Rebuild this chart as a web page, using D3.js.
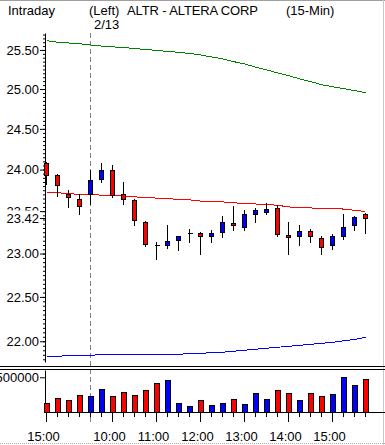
<!DOCTYPE html>
<html>
<head>
<meta charset="utf-8">
<script src="https://cdn.jsdelivr.net/npm/d3@7"></script>
<style>
    body { margin: 0; background: #fff; }
    svg { display: block; font-family: "Liberation Sans", Arial, sans-serif; }
</style>
</head>
<body>
<script>
// 15-min bars, last 4 of 2/12 then 2/13
var times = ["15:00","15:15","15:30","15:45","9:30","9:45","10:00","10:15","10:30","10:45",
             "11:00","11:15","11:30","11:45","12:00","12:15","12:30","12:45","13:00","13:15",
             "13:30","13:45","14:00","14:15","14:30","14:45","15:00","15:15","15:30","15:45"];
var sessionStart = 4;
var sessionDate = "2/13";

var open  = [24.08,23.93,23.71,23.65,23.71,23.89,24.00,23.71,23.63,23.37,23.10,23.10,23.16,23.24,23.245,
             23.21,23.25,23.36,23.31,23.47,23.49,23.54,23.22,23.20,23.27,23.18,23.10,23.21,23.33,23.47];
var high  = [24.09,23.95,23.75,23.70,24.00,24.08,24.06,23.85,23.64,23.38,23.13,23.33,23.21,23.29,23.25,
             23.28,23.44,23.56,23.51,23.54,23.60,23.57,23.37,23.33,23.29,23.20,23.23,23.46,23.44,23.48];
var low   = [23.82,23.68,23.55,23.47,23.58,23.85,23.67,23.58,23.34,23.09,22.94,23.06,23.04,23.14,22.99,
             23.14,23.19,23.28,23.28,23.37,23.47,23.21,23.00,23.10,23.14,22.99,23.05,23.17,23.28,23.24];
var close = [23.94,23.81,23.67,23.56,23.87,24.00,23.69,23.65,23.39,23.11,23.10,23.15,23.20,23.24,23.21,
             23.24,23.37,23.33,23.47,23.51,23.53,23.23,23.19,23.27,23.21,23.08,23.21,23.31,23.43,23.42];
var volume = [125000,197000,169000,241000,226000,327000,226000,284000,241000,313000,
              414000,457000,125000,82000,169000,97000,125000,183000,111000,270000,
              183000,313000,270000,169000,270000,226000,255000,500000,385000,471000];

var upperBand = [25.62,25.60,25.59,25.58,25.565,25.55,25.54,25.53,25.52,25.505,
                 25.495,25.48,25.47,25.455,25.435,25.41,25.385,25.35,25.32,25.28,
                 25.245,25.205,25.17,25.13,25.095,25.055,25.03,25.005,24.98,24.955];
var midLine   = [23.72,23.72,23.71,23.70,23.70,23.69,23.69,23.68,23.67,23.665,
                 23.655,23.65,23.64,23.635,23.62,23.615,23.61,23.60,23.59,23.585,
                 23.578,23.57,23.55,23.54,23.538,23.53,23.527,23.525,23.51,23.495];
var lowerBand = [21.834,21.834,21.84,21.845,21.845,21.85,21.85,21.856,21.856,21.856,
                 21.856,21.856,21.856,21.862,21.867,21.872,21.878,21.889,21.90,21.911,
                 21.922,21.933,21.944,21.955,21.966,21.977,21.988,22.005,22.02,22.044];

var priceTicks = [22.00, 22.50, 23.00, 23.50, 24.00, 24.50, 25.00, 25.50];
var volumeTicks = [500000];

function init(){
    var w = 385;
    var h = 445;
    var axisX = 45;
    var fontSize = 13;
    var red = "#ff0000", blue = "#0000ff";

    var svg = d3.select("body")
                .append("svg")
                .attr("width", w)
                .attr("height", h);

    var xScale = d3.scalePoint()
                    .domain(d3.range(times.length))
                    .range([46, 365]);
    function cx(i) { return xScale(i) + 0.5; }

    var yScale = d3.scaleLog()
                    .domain([21.77, 25.72])
                    .range([362, 33]);

    var vScale = d3.scaleLinear()
                    .domain([0, 605000])
                    .range([412, 370]);

    // frame bits
    svg.append("line").attr("x1", 0).attr("x2", w).attr("y1", 0.5).attr("y2", 0.5)
        .attr("stroke", "#a0a0a0");
    svg.append("line").attr("x1", w - 1.5).attr("x2", w - 1.5).attr("y1", 0).attr("y2", h)
        .attr("stroke", "#c8c8c8");
    svg.append("line").attr("x1", 0).attr("x2", w).attr("y1", h - 1.5).attr("y2", h - 1.5)
        .attr("stroke", "#b0b0b0").attr("stroke-dasharray", "1,1");

    // header
    var header = svg.append("g").attr("font-size", fontSize).attr("fill", "black");
    header.append("text").attr("x", 8).attr("y", 15).text("Intraday");
    header.append("text").attr("x", 89).attr("y", 15).text("(Left)");
    header.append("text").attr("x", 127).attr("y", 15).attr("textLength", 131).text("ALTR - ALTERA CORP");
    header.append("text").attr("x", 286).attr("y", 15).text("(15-Min)");
    header.append("text").attr("x", 94).attr("y", 29).text(sessionDate);

    // session separator
    svg.append("line")
        .attr("x1", cx(sessionStart)).attr("x2", cx(sessionStart))
        .attr("y1", 33).attr("y2", 422)
        .attr("stroke", "#808080")
        .attr("stroke-dasharray", "5,3");

    // panel separator (double line)
    [366.5, 369.5].forEach(function(y) {
        svg.append("line").attr("x1", 0).attr("x2", w).attr("y1", y).attr("y2", y)
            .attr("stroke", "black");
    });

    // price axis: minor ticks every 0.05
    var minor = d3.range(0, 79).map(function(i) { return Math.round((21.80 + i * 0.05) * 100) / 100; });
    var minorAxis = svg.append("g")
        .attr("transform", "translate(" + axisX + ",0)")
        .call(d3.axisLeft(yScale).tickValues(minor).tickSize(2).tickSizeOuter(0).tickFormat(""));
    minorAxis.select(".domain").remove();

    var priceAxis = svg.append("g")
        .attr("transform", "translate(" + axisX + ",0)")
        .call(d3.axisLeft(yScale)
                .tickValues(priceTicks)
                .tickSize(5)
                .tickSizeOuter(0)
                .tickPadding(1)
                .tickFormat(d3.format(".2f")));
    priceAxis.attr("font-size", fontSize).attr("font-family", null);
    priceAxis.selectAll("line, path").attr("stroke", "black");
    priceAxis.selectAll("text").attr("fill", "black");

    // last price marker
    var last = close[close.length - 1];
    var lastY = Math.round(yScale(last)) + 0.5;
    svg.append("rect")
        .attr("x", 0).attr("y", lastY - 8)
        .attr("width", axisX - 5).attr("height", 15)
        .attr("fill", "white");
    svg.append("line")
        .attr("x1", axisX - 5).attr("x2", axisX).attr("y1", lastY).attr("y2", lastY)
        .attr("stroke", "black");
    svg.append("text")
        .attr("x", axisX - 6).attr("y", lastY)
        .attr("dy", "0.32em")
        .attr("text-anchor", "end")
        .attr("font-size", fontSize)
        .text(d3.format(".2f")(last));

    // bands
    var bands = [[upperBand, "#008000"], [midLine, red], [lowerBand, blue]];
    bands.forEach(function(b) {
        svg.append("path")
            .datum(b[0])
            .attr("fill", "none")
            .attr("stroke", b[1])
            .attr("stroke-width", 1)
            .attr("shape-rendering", "crispEdges")
            .attr("d", d3.line()
                .x(function(d, i) { return cx(i); })
                .y(function(d) { return yScale(d); }));
    });

    // candles
    var candles = svg.append("g").selectAll("g")
        .data(d3.range(times.length))
        .enter()
        .append("g")
        .attr("shape-rendering", "crispEdges");

    candles.append("line")
        .attr("x1", function(i) { return cx(i); })
        .attr("x2", function(i) { return cx(i); })
        .attr("y1", function(i) { return Math.round(yScale(high[i])); })
        .attr("y2", function(i) { return Math.round(yScale(low[i])) + 1; })
        .attr("stroke", "black");

    candles.filter(function(i) { return open[i] !== close[i]; })
        .append("rect")
        .attr("x", function(i) { return cx(i) - 2; })
        .attr("y", function(i) { return Math.round(yScale(Math.max(open[i], close[i]))) + 0.5; })
        .attr("width", 4)
        .attr("height", function(i) {
            return Math.max(1, Math.round(yScale(Math.min(open[i], close[i]))) - Math.round(yScale(Math.max(open[i], close[i]))));
        })
        .attr("fill", function(i) { return close[i] > open[i] ? blue : red; })
        .attr("stroke", "black");

    candles.filter(function(i) { return open[i] === close[i]; })
        .append("line")
        .attr("x1", function(i) { return cx(i) - 2; })
        .attr("x2", function(i) { return cx(i) + 3; })
        .attr("y1", function(i) { return Math.round(yScale(close[i])) + 0.5; })
        .attr("y2", function(i) { return Math.round(yScale(close[i])) + 0.5; })
        .attr("stroke", "black");

    // volume axis
    var volAxis = svg.append("g")
        .attr("transform", "translate(" + axisX + ",0)")
        .call(d3.axisLeft(vScale)
                .tickValues(volumeTicks)
                .tickSize(5)
                .tickSizeOuter(0)
                .tickPadding(1)
                .tickFormat(d3.format("d")));
    volAxis.attr("font-size", fontSize).attr("font-family", null);
    volAxis.selectAll("line, path").attr("stroke", "black");
    volAxis.selectAll("text").attr("fill", "black");

    // volume bars
    svg.append("g").selectAll("rect")
        .data(volume)
        .enter()
        .append("rect")
        .attr("shape-rendering", "crispEdges")
        .attr("x", function(d, i) { return cx(i) - 2; })
        .attr("y", function(d) { return Math.round(vScale(d)) + 0.5; })
        .attr("width", 5)
        .attr("height", function(d) { return vScale(0) - Math.round(vScale(d)); })
        .attr("fill", function(d, i) {
            var prev = i > 0 ? close[i - 1] : open[i];
            return close[i] >= prev ? blue : red;
        })
        .attr("stroke", "black");

    svg.append("line")
        .attr("x1", axisX).attr("x2", w)
        .attr("y1", vScale(0) + 0.5).attr("y2", vScale(0) + 0.5)
        .attr("stroke", "black");

    // time axis: short tick per bar, long tick + label on the hour
    var shortAxis = svg.append("g")
        .attr("transform", "translate(0," + vScale(0) + ")")
        .call(d3.axisBottom(xScale).tickSize(5).tickSizeOuter(0).tickFormat(""));
    shortAxis.select(".domain").remove();
    shortAxis.selectAll("line").attr("stroke", "black");

    var hourIdx = d3.range(times.length).filter(function(i) { return /:00$/.test(times[i]); });
    var hourAxis = svg.append("g")
        .attr("transform", "translate(0," + vScale(0) + ")")
        .call(d3.axisBottom(xScale)
                .tickValues(hourIdx)
                .tickSize(10)
                .tickSizeOuter(0)
                .tickPadding(10)
                .tickFormat(function(i) { return times[i]; }));
    hourAxis.select(".domain").remove();
    hourAxis.attr("font-size", fontSize).attr("font-family", null);
    hourAxis.selectAll("line").attr("stroke", "black");
    hourAxis.selectAll("text").attr("fill", "black").attr("x", -3);
}

window.onload = init;
</script>
</body>
</html>
